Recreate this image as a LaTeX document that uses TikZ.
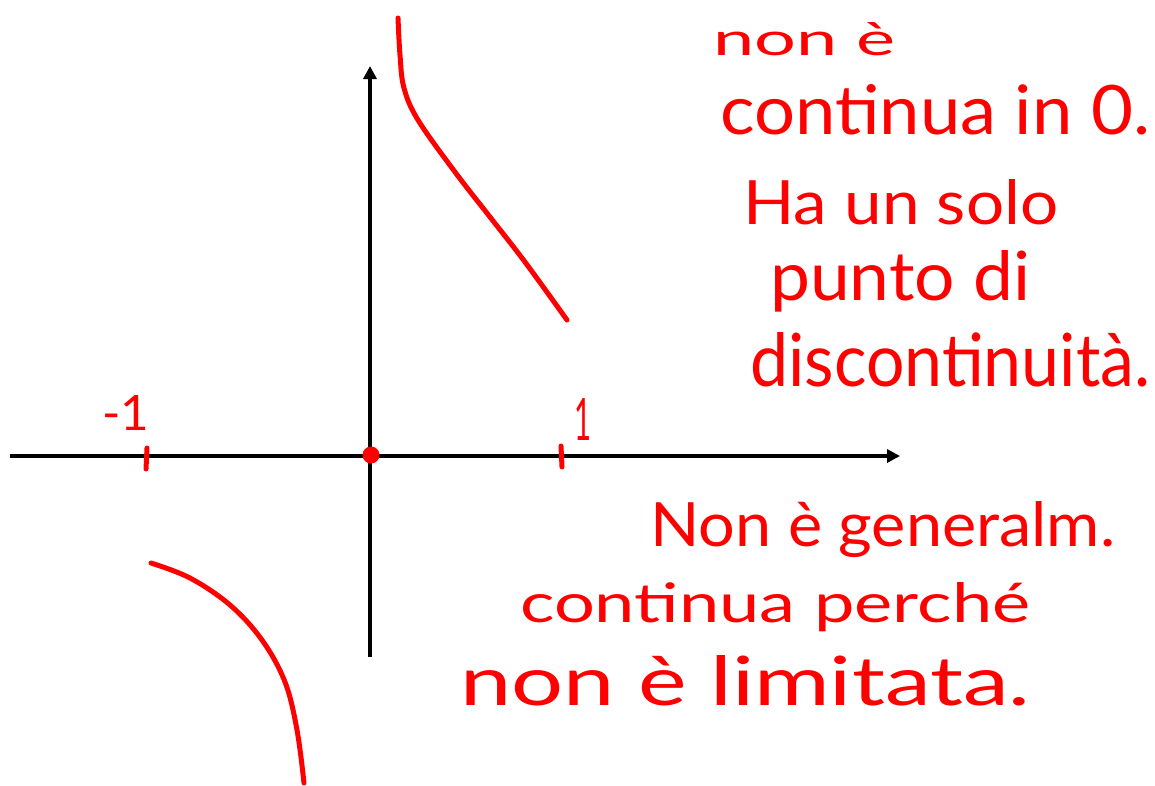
\documentclass[tikz,border=0pt]{standalone}
\usepackage{fontspec}
\setmainfont{Lato}
\usetikzlibrary{arrows.meta}
\definecolor{ink}{RGB}{255,0,0}
\newcommand{\hw}[3]{\resizebox{#1pt}{#2pt}{#3}}
\tikzset{
  axis/.style={line width=4.2pt,black},
  redline/.style={line width=5pt,ink,line cap=round,line join=round},
  hand/.style={ink,inner sep=0pt,anchor=base west}
}
\begin{document}
\begin{tikzpicture}[x=1pt,y=-1pt]
\useasboundingbox[fill=white] (0,0) rectangle (1155,785);
% axes
\coordinate (xl) at (10,456);
\coordinate (xr) at (900,456);
\coordinate (yb) at (370,657);
\coordinate (yt) at (370,66);
\draw[axis,-{Triangle[length=13pt,width=13pt]}] (xl) -- (xr);
\draw[axis,-{Triangle[length=13pt,width=13pt]}] (yb) -- (yt);
% ticks
\coordinate (t1a) at (147,448); \coordinate (t1b) at (146,469);
\coordinate (t2a) at (561,446); \coordinate (t2b) at (562,467);
\draw[redline] (t1a) -- (t1b);
\draw[redline] (t2a) -- (t2b);
\node[hand] (lm1) at (102,430) {\hw{47}{35}{-1}};
\node[hand] (lp1) at (574,440) {\hw{17}{42}{1}};
% origin dot
\node[circle,fill=ink,minimum size=17pt,inner sep=0pt] (o) at (371,455) {};
% curves
\draw[redline] plot[smooth,tension=0.6] coordinates {(398,18) (400,55) (404,88) (418,120) (455,172) (490,217) (525,262) (567,320)};
\draw[redline] plot[smooth,tension=0.6] coordinates {(151,563) (190,578) (230,605) (262,640) (285,682) (297,730) (304,783)};
% right text
\node[hand] (r1) at (713,55) {\hw{182}{33}{non è}};
\node[hand] (r2) at (720,134) {\hw{430}{50}{continua in 0.}};
\node[hand] (r3) at (743,224) {\hw{315}{45}{Ha un solo}};
\node[hand] (r4) at (770,300) {\hw{260}{50}{punto di}};
\node[hand] (r5) at (750,386) {\hw{400}{54}{discontinuità.}};
% bottom text
\node[hand] (b1) at (650,546) {\hw{465}{45}{Non è generalm.}};
\node[hand] (b2) at (520,622) {\hw{510}{40}{continua perché}};
\node[hand] (b3) at (460,705) {\hw{570}{50}{non è limitata.}};
\end{tikzpicture}
\end{document}
